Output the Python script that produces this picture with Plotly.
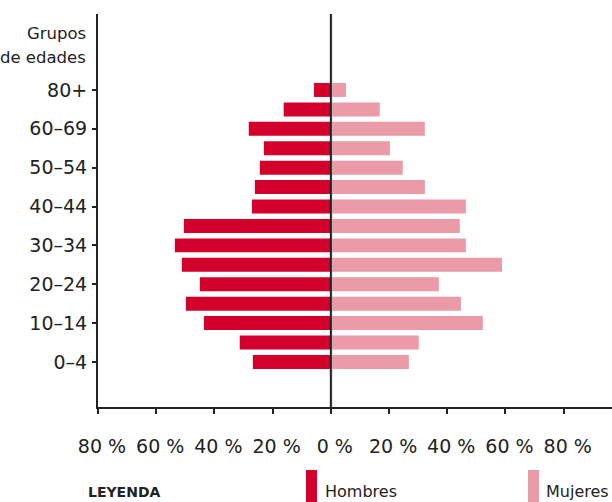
import plotly.graph_objects as go

age_groups = ["0-4", "5-9", "10-14", "15-19", "20-24", "25-29", "30-34", "35-39",
              "40-44", "45-49", "50-54", "55-59", "60-69", "70-79", "80+"]
hombres = [26.8, 31.3, 43.6, 49.8, 45.0, 51.2, 53.6, 50.5, 27.1, 26.1, 24.4, 23.0, 28.2, 16.2, 5.8]
mujeres = [26.8, 30.2, 52.2, 44.7, 37.1, 58.8, 46.4, 44.3, 46.4, 32.3, 24.7, 20.3, 32.3, 16.8, 5.2]
shown_ticks = ["0-4", "10-14", "20-24", "30-34", "40-44", "50-54", "60-69", "80+"]
x_tickvals = [-80, -60, -40, -20, 0, 20, 40, 60, 80]
x_ticktext = ["80 %", "60 %", "40 %", "20 %", "0 %", "20 %", "40 %", "60 %", "80 %"]

RED = "#d2002a"
PINK = "#eb9aa8"
INK = "#222222"
FONT = "DejaVu Sans, sans-serif"

fig = go.Figure()
fig.add_trace(go.Bar(y=age_groups, x=[-v for v in hombres], orientation="h",
                     marker=dict(color=RED, line=dict(width=0)), name="Hombres",
                     hoverinfo="skip"))
fig.add_trace(go.Bar(y=age_groups, x=mujeres, orientation="h",
                     marker=dict(color=PINK, line=dict(width=0)), name="Mujeres",
                     hoverinfo="skip"))

fig.update_layout(
    width=612, height=502,
    margin=dict(l=98, r=0, t=14, b=95),
    barmode="relative", bargap=0.28,
    plot_bgcolor="white", paper_bgcolor="white",
    showlegend=False,
    font=dict(family=FONT, size=18, color=INK),
    xaxis=dict(range=[-80, 96.6], tickvals=x_tickvals, ticktext=x_ticktext,
               showgrid=False, zeroline=False, showline=True, linecolor=INK, linewidth=2,
               ticks="outside", ticklen=5, tickwidth=2, tickcolor=INK,
               ticklabelstandoff=16, ticklabelshift=4,
               tickfont=dict(size=19, color=INK, family=FONT)),
    yaxis=dict(type="category", categoryarray=age_groups, range=[-2.32, 17.91],
               tickvals=shown_ticks, ticktext=[t.replace("-", "–") for t in shown_ticks],
               showgrid=False, zeroline=False, showline=True, linecolor=INK, linewidth=2,
               ticks="outside", ticklen=4, tickwidth=2, tickcolor=INK,
               ticklabelstandoff=1,
               tickfont=dict(size=19, color=INK, family=FONT)),
)

# centre line
fig.add_shape(type="line", xref="x", yref="paper", x0=0.35, x1=0.35, y0=0, y1=1,
              line=dict(color="#bbbbbb", width=1), layer="above")
fig.add_shape(type="line", xref="x", yref="paper", x0=0, x1=0, y0=0, y1=1,
              line=dict(color=INK, width=2), layer="above")

def px_x(sx):
    return (sx - 98) / 514

def px_y(sy):
    return (407 - sy) / 393

fig.add_annotation(xref="paper", yref="paper", x=px_x(88), y=px_y(33), xanchor="right",
                   yanchor="middle", showarrow=False, text="Grupos",
                   font=dict(size=16.5, color=INK, family=FONT))
fig.add_annotation(xref="paper", yref="paper", x=px_x(88), y=px_y(57), xanchor="right",
                   yanchor="middle", showarrow=False, text="de edades",
                   font=dict(size=16.5, color=INK, family=FONT))

# legend
fig.add_annotation(xref="paper", yref="paper", x=px_x(86), y=px_y(492), xanchor="left",
                   yanchor="middle", showarrow=False, text="<b>LEYENDA</b>",
                   font=dict(size=14, color=INK, family=FONT))
fig.add_shape(type="rect", xref="paper", yref="paper", x0=px_x(306), x1=px_x(317),
              y0=px_y(503), y1=px_y(470), fillcolor=RED, line=dict(width=0))
fig.add_annotation(xref="paper", yref="paper", x=px_x(323), y=px_y(492),
                   xanchor="left", yanchor="middle", showarrow=False, text="Hombres",
                   font=dict(size=16, color=INK, family=FONT))
fig.add_shape(type="rect", xref="paper", yref="paper", x0=px_x(528), x1=px_x(539),
              y0=px_y(503), y1=px_y(470), fillcolor=PINK, line=dict(width=0))
fig.add_annotation(xref="paper", yref="paper", x=px_x(544), y=px_y(492),
                   xanchor="left", yanchor="middle", showarrow=False, text="Mujeres",
                   font=dict(size=16, color=INK, family=FONT))

fig.write_html("out.html", config={"displayModeBar": False},
               post_script="document.body.style.margin='0';document.body.style.overflow='hidden';")
